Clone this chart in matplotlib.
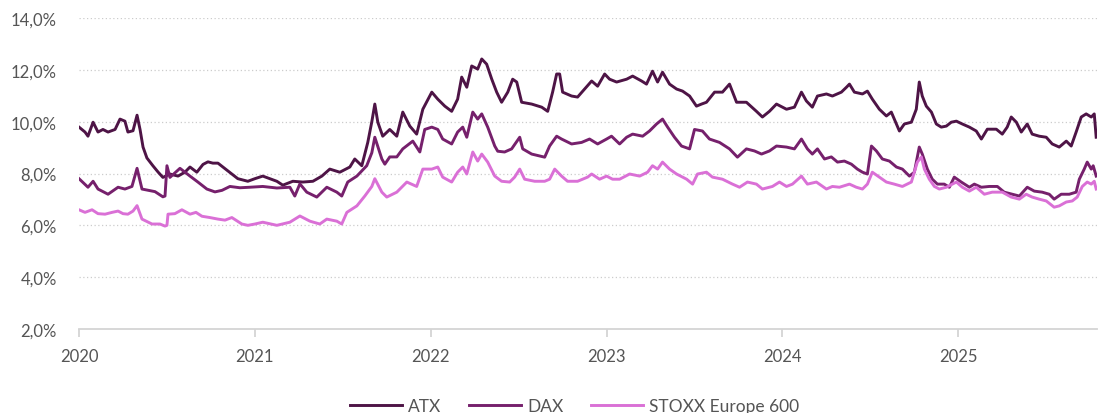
import matplotlib
matplotlib.use("Agg")
import matplotlib.pyplot as plt
import matplotlib.ticker as mticker

# Zeitachse in Dezimaljahren, Werte in Prozent
atx_t = [
    2020.000, 2020.034, 2020.051, 2020.080, 2020.108, 2020.136, 2020.165, 2020.205,
    2020.233, 2020.261, 2020.278, 2020.307, 2020.330, 2020.347, 2020.364, 2020.386,
    2020.420, 2020.449, 2020.477, 2020.517, 2020.563, 2020.602, 2020.631, 2020.670,
    2020.705, 2020.733, 2020.761, 2020.790, 2020.818, 2020.847, 2020.875, 2020.903,
    2020.932, 2020.960, 2021.000, 2021.045, 2021.085, 2021.125, 2021.159, 2021.216,
    2021.273, 2021.330, 2021.381, 2021.426, 2021.483, 2021.540, 2021.568, 2021.608,
    2021.642, 2021.665, 2021.682, 2021.699, 2021.727, 2021.767, 2021.807, 2021.841,
    2021.881, 2021.920, 2021.955, 2022.006, 2022.040, 2022.080, 2022.119, 2022.153,
    2022.176, 2022.205, 2022.233, 2022.267, 2022.290, 2022.318, 2022.347, 2022.375,
    2022.403, 2022.438, 2022.466, 2022.489, 2022.517, 2022.574, 2022.631, 2022.665,
    2022.693, 2022.716, 2022.733, 2022.750, 2022.801, 2022.835, 2022.875, 2022.915,
    2022.949, 2022.989, 2023.017, 2023.057, 2023.114, 2023.148, 2023.199, 2023.227,
    2023.261, 2023.290, 2023.318, 2023.358, 2023.398, 2023.432, 2023.472, 2023.511,
    2023.540, 2023.568, 2023.614, 2023.659, 2023.699, 2023.739, 2023.795, 2023.852,
    2023.886, 2023.926, 2023.966, 2024.023, 2024.068, 2024.108, 2024.136, 2024.170,
    2024.199, 2024.250, 2024.284, 2024.335, 2024.364, 2024.381, 2024.409, 2024.455,
    2024.483, 2024.511, 2024.551, 2024.591, 2024.619, 2024.648, 2024.665, 2024.693,
    2024.733, 2024.761, 2024.778, 2024.795, 2024.818, 2024.847, 2024.875, 2024.903,
    2024.932, 2024.960, 2024.989, 2025.023, 2025.063, 2025.102, 2025.131, 2025.165,
    2025.216, 2025.250, 2025.278, 2025.301, 2025.330, 2025.358, 2025.392, 2025.420,
    2025.460, 2025.500, 2025.534, 2025.574, 2025.614, 2025.642, 2025.670, 2025.699,
    2025.727, 2025.756, 2025.773, 2025.784,
]
atx_v = [
    9.79, 9.60, 9.44, 9.98, 9.60, 9.70, 9.60, 9.70,
    10.10, 10.02, 9.60, 9.65, 10.25, 9.70, 9.02, 8.60,
    8.30, 8.06, 7.85, 7.98, 7.90, 8.05, 8.25, 8.05,
    8.35, 8.45, 8.40, 8.40, 8.25, 8.10, 7.95, 7.80,
    7.75, 7.70, 7.80, 7.90, 7.80, 7.70, 7.55, 7.70,
    7.67, 7.70, 7.90, 8.17, 8.05, 8.25, 8.56, 8.30,
    9.20, 10.00, 10.68, 9.98, 9.44, 9.70, 9.44, 10.37,
    9.83, 9.52, 10.48, 11.14, 10.87, 10.60, 10.40, 10.87,
    11.72, 11.33, 12.15, 12.03, 12.42, 12.22, 11.64, 11.14,
    10.75, 11.14, 11.64, 11.53, 10.75, 10.68, 10.56, 10.40,
    11.14, 11.84, 11.84, 11.14, 10.99, 10.95, 11.26, 11.57,
    11.37, 11.84, 11.64, 11.53, 11.64, 11.76, 11.57, 11.45,
    11.95, 11.53, 11.91, 11.45, 11.26, 11.18, 10.99, 10.60,
    10.68, 10.75, 11.14, 11.14, 11.45, 10.75, 10.75, 10.40,
    10.18, 10.40, 10.68, 10.48, 10.56, 11.14, 10.80, 10.56,
    10.99, 11.07, 10.99, 11.14, 11.33, 11.45, 11.14, 11.07,
    11.18, 10.87, 10.48, 10.22, 10.37, 9.91, 9.64, 9.91,
    9.98, 10.48, 11.53, 10.99, 10.60, 10.37, 9.91, 9.79,
    9.83, 9.98, 10.02, 9.91, 9.79, 9.64, 9.33, 9.71,
    9.71, 9.52, 9.79, 10.18, 9.98, 9.60, 9.91, 9.52,
    9.44, 9.40, 9.14, 9.02, 9.25, 9.06, 9.60, 10.18,
    10.30, 10.18, 10.30, 9.40,
]

dax_t = [
    2020.000, 2020.051, 2020.080, 2020.108, 2020.165, 2020.222, 2020.261, 2020.301,
    2020.330, 2020.358, 2020.432, 2020.477, 2020.489, 2020.500, 2020.517, 2020.574,
    2020.631, 2020.676, 2020.727, 2020.773, 2020.813, 2020.858, 2020.915, 2020.972,
    2021.045, 2021.125, 2021.199, 2021.227, 2021.256, 2021.295, 2021.352, 2021.409,
    2021.466, 2021.494, 2021.528, 2021.580, 2021.636, 2021.665, 2021.682, 2021.722,
    2021.739, 2021.767, 2021.807, 2021.841, 2021.898, 2021.938, 2021.966, 2022.006,
    2022.040, 2022.068, 2022.119, 2022.153, 2022.182, 2022.205, 2022.239, 2022.267,
    2022.290, 2022.324, 2022.364, 2022.381, 2022.420, 2022.460, 2022.506, 2022.523,
    2022.574, 2022.648, 2022.676, 2022.716, 2022.744, 2022.801, 2022.858, 2022.903,
    2022.949, 2023.000, 2023.028, 2023.074, 2023.114, 2023.148, 2023.205, 2023.244,
    2023.284, 2023.318, 2023.347, 2023.386, 2023.426, 2023.472, 2023.500, 2023.545,
    2023.585, 2023.642, 2023.699, 2023.744, 2023.795, 2023.841, 2023.881, 2023.926,
    2023.966, 2024.023, 2024.068, 2024.108, 2024.142, 2024.170, 2024.199, 2024.239,
    2024.278, 2024.313, 2024.352, 2024.392, 2024.426, 2024.455, 2024.483, 2024.506,
    2024.534, 2024.568, 2024.608, 2024.648, 2024.682, 2024.722, 2024.750, 2024.778,
    2024.795, 2024.824, 2024.852, 2024.881, 2024.920, 2024.949, 2024.977, 2025.017,
    2025.063, 2025.091, 2025.131, 2025.176, 2025.222, 2025.261, 2025.307, 2025.347,
    2025.392, 2025.432, 2025.477, 2025.517, 2025.545, 2025.585, 2025.631, 2025.670,
    2025.688, 2025.716, 2025.733, 2025.756, 2025.767, 2025.784,
]
dax_v = [
    7.80, 7.47, 7.70, 7.40, 7.20, 7.47, 7.40, 7.50,
    8.20, 7.40, 7.30, 7.10, 7.13, 8.30, 7.85, 8.20,
    7.90, 7.67, 7.40, 7.29, 7.35, 7.50, 7.45, 7.47,
    7.50, 7.44, 7.47, 7.13, 7.60, 7.28, 7.09, 7.47,
    7.28, 7.13, 7.67, 7.90, 8.30, 8.80, 9.40, 8.56,
    8.36, 8.64, 8.64, 8.95, 9.25, 8.83, 9.70, 9.79,
    9.70, 9.33, 9.14, 9.60, 9.79, 9.40, 10.37, 10.10,
    10.30, 9.79, 9.06, 8.86, 8.83, 8.95, 9.40, 8.95,
    8.75, 8.63, 9.06, 9.44, 9.33, 9.14, 9.20, 9.33,
    9.14, 9.33, 9.44, 9.14, 9.40, 9.52, 9.44, 9.64,
    9.91, 10.10, 9.79, 9.40, 9.06, 8.95, 9.70, 9.64,
    9.33, 9.20, 8.95, 8.63, 8.95, 8.87, 8.75, 8.87,
    9.06, 9.02, 8.95, 9.33, 8.95, 8.75, 8.95, 8.56,
    8.64, 8.44, 8.48, 8.36, 8.17, 8.05, 7.98, 9.06,
    8.87, 8.56, 8.48, 8.25, 8.17, 7.90, 8.05, 9.02,
    8.75, 8.17, 7.78, 7.59, 7.59, 7.47, 7.86, 7.67,
    7.47, 7.59, 7.47, 7.50, 7.50, 7.28, 7.20, 7.13,
    7.47, 7.32, 7.28, 7.20, 7.01, 7.20, 7.20, 7.28,
    7.78, 8.17, 8.44, 8.17, 8.30, 7.90,
]

stoxx_t = [
    2020.000, 2020.034, 2020.074, 2020.108, 2020.148, 2020.188, 2020.222, 2020.250,
    2020.278, 2020.307, 2020.330, 2020.358, 2020.415, 2020.460, 2020.489, 2020.500,
    2020.506, 2020.545, 2020.585, 2020.631, 2020.665, 2020.699, 2020.744, 2020.790,
    2020.830, 2020.869, 2020.926, 2020.960, 2021.000, 2021.045, 2021.125, 2021.199,
    2021.256, 2021.313, 2021.369, 2021.409, 2021.466, 2021.494, 2021.523, 2021.580,
    2021.625, 2021.665, 2021.682, 2021.722, 2021.750, 2021.807, 2021.864, 2021.920,
    2021.955, 2022.006, 2022.040, 2022.068, 2022.119, 2022.153, 2022.182, 2022.205,
    2022.239, 2022.267, 2022.290, 2022.324, 2022.364, 2022.403, 2022.449, 2022.477,
    2022.506, 2022.534, 2022.591, 2022.648, 2022.676, 2022.705, 2022.744, 2022.778,
    2022.835, 2022.892, 2022.915, 2022.960, 2023.000, 2023.034, 2023.074, 2023.131,
    2023.188, 2023.233, 2023.261, 2023.290, 2023.318, 2023.358, 2023.398, 2023.455,
    2023.489, 2023.517, 2023.568, 2023.602, 2023.659, 2023.716, 2023.756, 2023.801,
    2023.852, 2023.886, 2023.943, 2023.983, 2024.023, 2024.057, 2024.108, 2024.142,
    2024.193, 2024.250, 2024.284, 2024.324, 2024.381, 2024.420, 2024.455, 2024.483,
    2024.511, 2024.551, 2024.591, 2024.636, 2024.682, 2024.733, 2024.767, 2024.790,
    2024.807, 2024.835, 2024.864, 2024.892, 2024.932, 2024.966, 2024.989, 2025.023,
    2025.063, 2025.102, 2025.148, 2025.193, 2025.250, 2025.301, 2025.347, 2025.386,
    2025.420, 2025.460, 2025.500, 2025.545, 2025.574, 2025.614, 2025.648, 2025.676,
    2025.705, 2025.733, 2025.756, 2025.773, 2025.784,
]
stoxx_v = [
    6.60, 6.50, 6.60, 6.45, 6.43, 6.50, 6.55, 6.45,
    6.43, 6.55, 6.76, 6.24, 6.05, 6.05, 5.97, 6.00,
    6.43, 6.45, 6.60, 6.43, 6.50, 6.35, 6.30, 6.24,
    6.20, 6.30, 6.05, 6.00, 6.05, 6.12, 6.00, 6.12,
    6.36, 6.16, 6.05, 6.24, 6.16, 6.05, 6.50, 6.75,
    7.13, 7.50, 7.80, 7.28, 7.09, 7.28, 7.67, 7.50,
    8.17, 8.17, 8.25, 7.86, 7.67, 8.05, 8.25, 7.98,
    8.83, 8.48, 8.75, 8.44, 7.90, 7.70, 7.67, 7.86,
    8.17, 7.78, 7.70, 7.70, 7.78, 8.17, 7.90, 7.70,
    7.70, 7.86, 7.98, 7.78, 7.90, 7.78, 7.78, 7.98,
    7.90, 8.05, 8.30, 8.17, 8.44, 8.17, 7.98, 7.78,
    7.59, 7.98, 8.05, 7.86, 7.78, 7.59, 7.47, 7.67,
    7.59, 7.40, 7.50, 7.67, 7.50, 7.59, 7.90, 7.59,
    7.67, 7.40, 7.50, 7.47, 7.59, 7.47, 7.40, 7.59,
    8.05, 7.86, 7.67, 7.59, 7.50, 7.67, 8.44, 8.64,
    8.17, 7.78, 7.50, 7.40, 7.47, 7.59, 7.67, 7.47,
    7.32, 7.47, 7.20, 7.28, 7.28, 7.09, 7.01, 7.20,
    7.09, 7.01, 6.94, 6.70, 6.75, 6.90, 6.94, 7.09,
    7.50, 7.67, 7.59, 7.70, 7.40,
]

series = [
    ("ATX", atx_t, atx_v, "#4e1446"),
    ("DAX", dax_t, dax_v, "#76206c"),
    ("STOXX Europe 600", stoxx_t, stoxx_v, "#da70d6"),
]

year_ticks = [2020, 2021, 2022, 2023, 2024, 2025]
pct_ticks = [2, 4, 6, 8, 10, 12, 14]

plt.rcParams["font.family"] = ["Lato", "DejaVu Sans"]

fig = plt.figure(figsize=(10.99, 4.14), dpi=100)
ax = fig.add_axes([0.0719, 0.203, 0.9265, 0.751])

for name, t, v, color in series:
    ax.plot(t, v, color=color, linewidth=2.1, label=name, solid_joinstyle="round")

ax.set_xlim(2020, 2025.79)
ax.set_ylim(2, 14)
ax.set_xticks(year_ticks)
ax.set_xticklabels([str(y) for y in year_ticks])
ax.set_yticks(pct_ticks)
ax.yaxis.set_major_formatter(mticker.FuncFormatter(lambda y, _: f"{y:.1f}%".replace(".", ",")))

for y in pct_ticks[1:]:
    ax.axhline(y, color="#cccccc", linewidth=0.9, linestyle=(0, (1, 2)), zorder=0)

for side in ["top", "right", "left"]:
    ax.spines[side].set_visible(False)
ax.spines["bottom"].set_color("#d4d4d4")
ax.spines["bottom"].set_linewidth(1.3)

ax.tick_params(axis="x", length=6, width=1.3, color="#d4d4d4", pad=8,
               labelsize=12, labelcolor="#555555")
ax.tick_params(axis="y", length=0, pad=16, labelsize=12, labelcolor="#555555")

fig.legend(loc="center", bbox_to_anchor=(0.523, 0.017), ncol=3, frameon=False,
           fontsize=12.5, handlelength=3.0, handletextpad=0.35, columnspacing=1.6,
           labelcolor="#555555")

fig.savefig("out.png", dpi=100)
